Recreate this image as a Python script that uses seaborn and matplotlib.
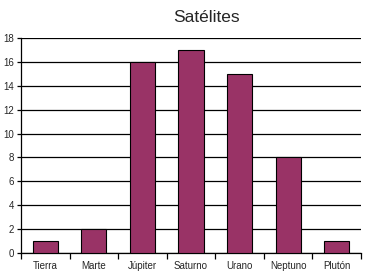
import matplotlib
matplotlib.use("Agg")
import matplotlib.pyplot as plt
import seaborn as sns
import pandas as pd
import numpy as np

planetas = ["Tierra", "Marte", "Júpiter", "Saturno", "Urano", "Neptuno", "Plutón"]
satelites = [1, 2, 16, 17, 15, 8, 1]
yticks = [0, 2, 4, 6, 8, 10, 12, 14, 16, 18]

df = pd.DataFrame({"planeta": planetas, "satelites": satelites})

sns.set_style("white")
plt.rcParams['font.family'] = ['Liberation Sans', 'DejaVu Sans']

fig = plt.figure(figsize=(3.74, 2.80), dpi=100)
ax = fig.add_axes([21/374, 1-253/280, 340/374, 215/280])

sns.barplot(data=df, x="planeta", y="satelites", color="#993366", saturation=1,
            width=0.52, edgecolor="black", linewidth=0.8, ax=ax, zorder=3)

ax.set_ylim(0, 18)
ax.set_xlim(-0.5, len(planetas) - 0.5)
ax.set_yticks(yticks)
ax.set_yticklabels([str(v) for v in yticks], fontsize=7)
ax.yaxis.grid(True, color="black", linewidth=0.9, zorder=0)
ax.set_axisbelow(True)
ax.set_xlabel("")
ax.set_ylabel("")
ax.set_xticks(np.arange(-0.5, len(planetas), 1.0), minor=True)
ax.tick_params(axis="x", which="major", bottom=True, length=0, labelsize=7, pad=6)
ax.tick_params(axis="x", which="minor", bottom=True, length=4, width=0.9, color="black", direction="out")
ax.tick_params(axis="y", which="major", left=True, length=3, width=0.9, color="black", direction="out", pad=2)

for s in ["top", "right"]:
    ax.spines[s].set_visible(False)
for s in ["left", "bottom"]:
    ax.spines[s].set_color("black")
    ax.spines[s].set_linewidth(0.9)

fig.text(206/374, 1-17/280, "Satélites", ha="center", va="center", fontsize=12.5)

fig.savefig("out.png", dpi=100)
